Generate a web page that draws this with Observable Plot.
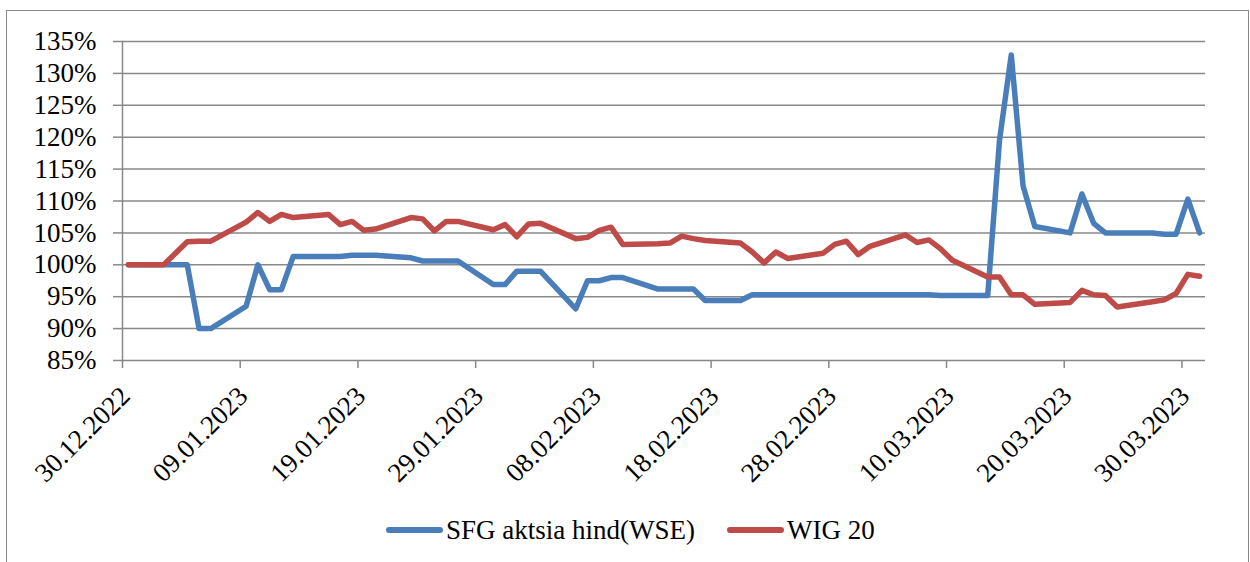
<!DOCTYPE html>
<html>
<head>
<meta charset="utf-8">
<script src="https://cdn.jsdelivr.net/npm/d3@7"></script>
<script src="https://cdn.jsdelivr.net/npm/@observablehq/plot@0.6"></script>
<style>
  html, body { margin: 0; padding: 0; background: #fff; }
  #wrap { position: relative; width: 1250px; height: 562px; overflow: hidden; font-family: "Liberation Serif", serif; }
  #border { position: absolute; left: 6px; top: 10px; width: 1243px; height: 600px; border: 1.5px solid #888; box-sizing: border-box; }
  #chart { position: absolute; left: 0; top: 0; }
  #chart svg, #chart svg text { font-family: "Liberation Serif", serif !important; }
  #legend { position: absolute; left: 386px; top: 513px; display: flex; align-items: center; font-size: 27px; line-height: 34px; color: #000; white-space: nowrap; font-family: "Liberation Serif", serif; }
  .sw { display: inline-block; width: 57px; height: 6px; border-radius: 3px; margin-right: 3px; }
  .item { display: flex; align-items: center; margin-right: 32px; }
</style>
</head>
<body>
<div id="wrap">
  <div id="border"></div>
  <div id="chart"></div>
  <div id="legend"></div>
</div>
<script>
const dates = ["2022-12-30",
 "2023-01-02","2023-01-03","2023-01-04","2023-01-05","2023-01-06",
 "2023-01-09","2023-01-10","2023-01-11","2023-01-12","2023-01-13",
 "2023-01-16","2023-01-17","2023-01-18","2023-01-19","2023-01-20",
 "2023-01-23","2023-01-24","2023-01-25","2023-01-26","2023-01-27",
 "2023-01-30","2023-01-31",
 "2023-02-01","2023-02-02","2023-02-03",
 "2023-02-06","2023-02-07","2023-02-08","2023-02-09","2023-02-10",
 "2023-02-13","2023-02-14","2023-02-15","2023-02-16","2023-02-17",
 "2023-02-20","2023-02-21","2023-02-22","2023-02-23","2023-02-24",
 "2023-02-27","2023-02-28",
 "2023-03-01","2023-03-02","2023-03-03",
 "2023-03-06","2023-03-07","2023-03-08","2023-03-09","2023-03-10",
 "2023-03-13","2023-03-14","2023-03-15","2023-03-16","2023-03-17",
 "2023-03-20","2023-03-21","2023-03-22","2023-03-23","2023-03-24",
 "2023-03-27","2023-03-28","2023-03-29","2023-03-30","2023-03-31"];

const sfgName = "SFG aktsia hind(WSE)";
const sfg = [100,
 100,100,100,90,90,
 93.5,100,96.1,96.1,101.3,
 101.3,101.3,101.5,101.5,101.5,
 101.1,100.6,100.6,100.6,100.6,
 96.9,96.9,
 99,99,99,
 93.1,97.5,97.5,98,98,
 96.2,96.2,96.2,96.2,94.4,
 94.4,95.3,95.3,95.3,95.3,
 95.3,95.3,
 95.3,95.3,95.3,
 95.3,95.3,95.3,95.2,95.2,
 95.2,119.5,132.9,112.4,106,
 105,111.1,106.5,105,105,
 105,104.8,104.8,110.3,105];

const wigName = "WIG 20";
const wig = [100,
 100,101.8,103.6,103.7,103.7,
 106.7,108.2,106.8,107.9,107.4,
 107.9,106.3,106.8,105.4,105.6,
 107.4,107.2,105.3,106.8,106.8,
 105.5,106.3,
 104.4,106.4,106.5,
 104.1,104.3,105.4,105.9,103.2,
 103.3,103.4,104.5,104.1,103.8,
 103.4,102.0,100.3,102.0,101.0,
 101.8,103.2,
 103.7,101.6,102.9,
 104.7,103.5,103.9,102.5,100.7,
 98.1,98.1,95.3,95.3,93.8,
 94.1,96.0,95.3,95.2,93.4,
 94.2,94.5,95.5,98.5,98.2];

const xTicks = ["2022-12-30","2023-01-09","2023-01-19","2023-01-29","2023-02-08",
                "2023-02-18","2023-02-28","2023-03-10","2023-03-20","2023-03-30"];
const yTicks = [0.85,0.90,0.95,1.00,1.05,1.10,1.15,1.20,1.25,1.30,1.35];
const colors = {[sfgName]: "#4A7EBB", [wigName]: "#BE4B48"};

const parse = d3.utcParse("%Y-%m-%d");
const mid = s => d3.utcHour.offset(parse(s), 12);
const rows = [];
dates.forEach((d, i) => {
  rows.push({date: mid(d), value: sfg[i] / 100, series: sfgName});
});
dates.forEach((d, i) => {
  rows.push({date: mid(d), value: wig[i] / 100, series: wigName});
});
const tickDates = xTicks.map(parse);
const fmtDate = d3.utcFormat("%d.%m.%Y");

const grid = "#888888";
const chart = Plot.plot({
  width: 1250,
  height: 490,
  marginLeft: 122,
  marginRight: 45,
  marginTop: 41,
  marginBottom: 130,
  style: {fontFamily: "Liberation Serif, serif", fontSize: "27px", color: "#000", background: "transparent"},
  x: {type: "utc", domain: [parse("2022-12-30"), parse("2023-04-01")]},
  y: {domain: [0.85, 1.35]},
  color: {domain: [sfgName, wigName], range: [colors[sfgName], colors[wigName]]},
  marks: [
    Plot.gridY(yTicks, {stroke: grid, strokeOpacity: 1, strokeWidth: 1.5}),
    Plot.axisY(yTicks, {tickFormat: d3.format(".0%"), tickSize: 9, tickPadding: 17, stroke: grid, strokeWidth: 1.5, label: null, fontSize: 27, fill: "#000"}),
    Plot.axisX(tickDates, {tickFormat: () => "", tickSize: 8, stroke: grid, strokeWidth: 1.5, label: null}),
    Plot.text(tickDates, {x: d => d, text: d => fmtDate(d), frameAnchor: "bottom", rotate: -45, textAnchor: "end", lineAnchor: "middle", dx: 3, dy: 31, fontSize: 27, fill: "#000"}),
    Plot.frame({anchor: "left", stroke: grid, strokeWidth: 1.5}),
    Plot.lineY(rows, {x: "date", y: "value", z: "series", stroke: "series", strokeWidth: 5.5, strokeLinejoin: "round", strokeLinecap: "round"})
  ]
});
document.getElementById("chart").appendChild(chart);

const legend = document.getElementById("legend");
[sfgName, wigName].forEach(name => {
  const item = document.createElement("div");
  item.className = "item";
  const sw = document.createElement("span");
  sw.className = "sw";
  sw.style.background = colors[name];
  const t = document.createElement("span");
  t.textContent = name;
  item.appendChild(sw);
  item.appendChild(t);
  legend.appendChild(item);
});
</script>
</body>
</html>
